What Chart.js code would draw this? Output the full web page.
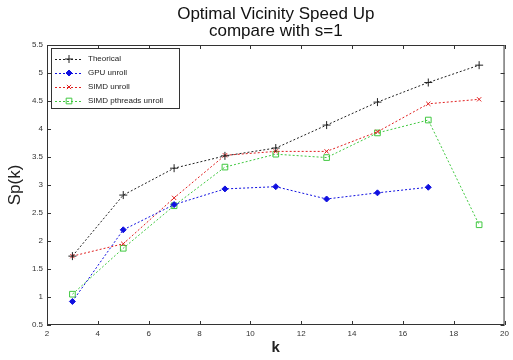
<!DOCTYPE html>
<html>
<head>
<meta charset="utf-8">
<script src="https://cdn.jsdelivr.net/npm/chart.js@4/dist/chart.umd.min.js"></script>
<style>
  html, body { margin: 0; padding: 0; background: #fff; }
  #wrap { width: 513px; height: 360px; }
</style>
</head>
<body>
<div id="wrap"><canvas id="chart" width="513" height="360"></canvas></div>
<script>
// Values
const kValues = [3, 5, 7, 9, 11, 13, 15, 17, 19];
const theorical = [1.73, 2.82, 3.30, 3.52, 3.66, 4.07, 4.48, 4.83, 5.14];
const gpuUnroll = [0.92, 2.20, 2.65, 2.93, 2.97, 2.75, 2.86, 2.96];
const simdUnroll = [1.73, 1.95, 2.77, 3.53, 3.60, 3.60, 3.95, 4.45, 4.53];
const simdPthreadsUnroll = [1.05, 1.87, 2.63, 3.32, 3.55, 3.49, 3.93, 4.16, 2.29];

const xTicks = [2, 4, 6, 8, 10, 12, 14, 16, 18, 20];
const yTicks = [0.5, 1, 1.5, 2, 2.5, 3, 3.5, 4, 4.5, 5, 5.5];
const titleLines = ['Optimal Vicinity Speed Up', 'compare with s=1'];

const FONT = '"Liberation Sans", Arial, sans-serif';

function toPoints(values) {
    return values.map((v, i) => ({ x: kValues[i], y: v }));
}

// MATLAB style frame: title over the axes, box, inward ticks, legend inside
const framePlugin = {
    id: 'frame',
    afterDatasetsDraw(chart) {
        const ctx = chart.ctx;
        const a = chart.chartArea;
        const xs = chart.scales.x;
        const ys = chart.scales.y;
        ctx.save();

        // title centred over the plot box
        ctx.fillStyle = '#111';
        ctx.font = '17px ' + FONT;
        ctx.textAlign = 'center';
        ctx.textBaseline = 'alphabetic';
        const cx = (a.left + a.right) / 2;
        ctx.fillText(titleLines[0], cx, 19);
        ctx.fillText(titleLines[1], cx, 36);
        ctx.textAlign = 'left';

        ctx.strokeStyle = '#333';
        ctx.lineWidth = 1;
        ctx.strokeRect(a.left + 0.5, a.top + 0.5, a.right - a.left - 1, a.bottom - a.top - 1);
        ctx.beginPath();
        xTicks.forEach(t => {
            const px = Math.round(xs.getPixelForValue(t)) + 0.5;
            ctx.moveTo(px, a.bottom); ctx.lineTo(px, a.bottom - 4);
            ctx.moveTo(px, a.top); ctx.lineTo(px, a.top + 4);
        });
        yTicks.forEach(t => {
            const py = Math.round(ys.getPixelForValue(t)) + 0.5;
            ctx.moveTo(a.left, py); ctx.lineTo(a.left + 4, py);
            ctx.moveTo(a.right, py); ctx.lineTo(a.right - 4, py);
        });
        ctx.stroke();

        // legend box
        const lx = a.left + 4, ly = a.top + 3, lw = 128, lh = 60;
        ctx.fillStyle = '#fff';
        ctx.fillRect(lx, ly, lw, lh);
        ctx.strokeStyle = '#333';
        ctx.strokeRect(lx + 0.5, ly + 0.5, lw, lh);
        ctx.font = '8px ' + FONT;
        ctx.textBaseline = 'middle';
        chart.data.datasets.forEach((ds, i) => {
            const y = ly + 11 + i * 14;
            ctx.save();
            ctx.strokeStyle = ds.borderColor;
            ctx.setLineDash([2, 2]);
            ctx.beginPath();
            ctx.moveTo(lx + 4, y + 0.5);
            ctx.lineTo(lx + 32, y + 0.5);
            ctx.stroke();
            ctx.setLineDash([]);
            ctx.strokeStyle = ds.pointBorderColor;
            ctx.fillStyle = ds.pointBackgroundColor;
            Chart.helpers.drawPoint(ctx, {
                pointStyle: ds.pointStyle,
                radius: ds.pointRadius,
                borderWidth: 1
            }, lx + 18, y);
            ctx.restore();
            ctx.fillStyle = '#222';
            ctx.fillText(ds.label, lx + 37, y);
        });
        ctx.restore();
    }
};

const datasets = [
    { label: 'Theorical', data: toPoints(theorical), color: '#222', style: 'cross', r: 4, fill: '#222' },
    { label: 'GPU unroll', data: toPoints(gpuUnroll), color: '#1010e0', style: 'rectRot', r: 3, fill: '#1010e0' },
    { label: 'SIMD unroll', data: toPoints(simdUnroll), color: '#e02020', style: 'crossRot', r: 3, fill: '#e02020' },
    { label: 'SIMD pthreads unroll', data: toPoints(simdPthreadsUnroll), color: '#40c840', style: 'rect', r: 4, fill: 'rgba(255,255,255,0)' }
].map(d => ({
    label: d.label,
    data: d.data,
    borderColor: d.color,
    backgroundColor: d.fill,
    pointBorderColor: d.color,
    pointBackgroundColor: d.fill,
    pointStyle: d.style,
    pointRadius: d.r,
    pointBorderWidth: 1,
    borderWidth: 1,
    borderDash: [2, 2],
    tension: 0,
    fill: false
}));

new Chart(document.getElementById('chart'), {
    type: 'line',
    data: { datasets: datasets },
    options: {
        responsive: false,
        animation: false,
        layout: { padding: { right: 2, top: 45 } },
        plugins: {
            legend: { display: false },
            tooltip: { enabled: false },
            title: { display: false }
        },
        scales: {
            x: {
                type: 'linear',
                min: 2,
                max: 20,
                afterBuildTicks: s => { s.ticks = xTicks.map(v => ({ value: v })); },
                afterFit: s => { s.height = 35; },
                grid: { display: false, drawTicks: false },
                border: { display: false },
                ticks: { color: '#333', font: { family: FONT, size: 8 }, padding: 4, maxRotation: 0, callback: v => String(v) },
                title: { display: true, text: 'k', color: '#222', font: { family: FONT, size: 15, weight: 'bold' }, padding: { top: 0, bottom: 3 } }
            },
            y: {
                type: 'linear',
                min: 0.5,
                max: 5.5,
                afterBuildTicks: s => { s.ticks = yTicks.map(v => ({ value: v })); },
                afterFit: s => { s.width = 47; },
                grid: { display: false, drawTicks: false },
                border: { display: false },
                ticks: { color: '#333', font: { family: FONT, size: 8 }, padding: 4, callback: v => String(v) },
                title: { display: true, text: 'Sp(k)', color: '#222', font: { family: FONT, size: 17 }, padding: { top: 5, bottom: 0 } }
            }
        }
    },
    plugins: [framePlugin]
});
</script>
</body>
</html>
